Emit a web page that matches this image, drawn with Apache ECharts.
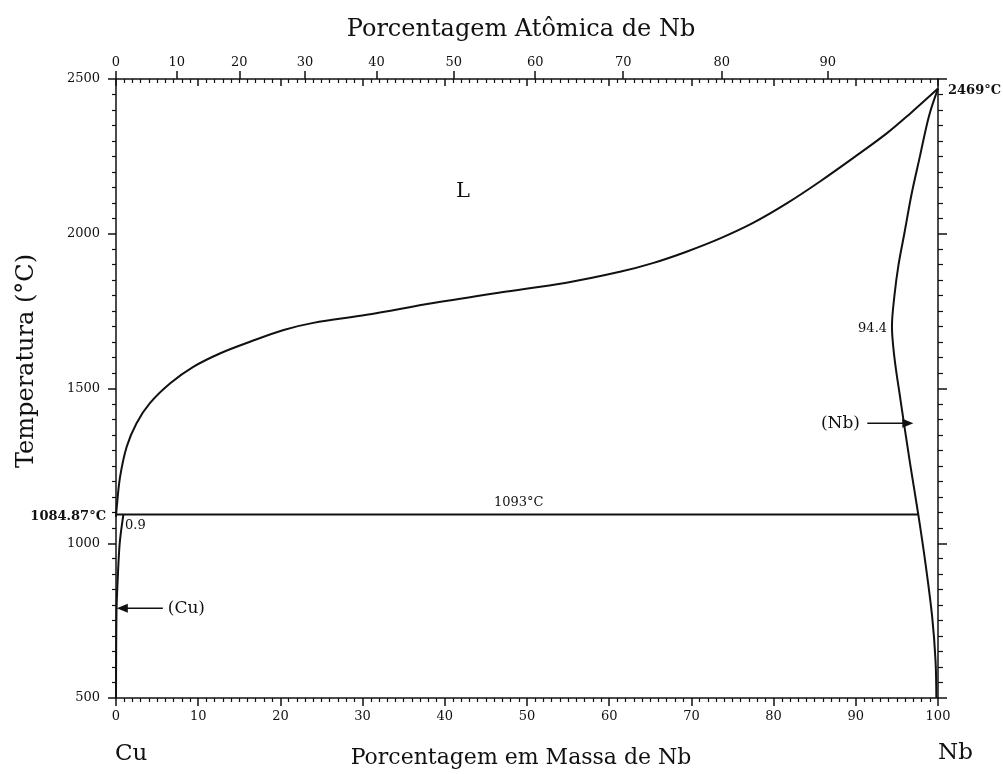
<!DOCTYPE html>
<html>
<head>
<meta charset="utf-8">
<script src="https://cdn.jsdelivr.net/npm/echarts@6/dist/echarts.min.js"></script>
<style>
  html, body { margin: 0; padding: 0; background: #fff; }
  #chart { width: 1003px; height: 774px; }
</style>
</head>
<body>
<div id="chart"></div>
<script>
// Cu–Nb phase diagram (temperature vs. mass % Nb)

// Liquidus: from the Cu melting point to the Nb melting point
const liquidus = [
  [0, 1084.87], [0.1, 1120], [0.5, 1215], [1.3, 1312], [2.5, 1388], [4.1, 1452],
  [6.6, 1517], [9.4, 1570], [12.7, 1614], [16.3, 1651], [20.4, 1689], [24, 1712],
  [30.5, 1738], [38.6, 1776], [46.7, 1810], [54.8, 1842], [61.3, 1877], [65.4, 1906],
  [69.4, 1942], [73.5, 1985], [77.5, 2035], [81.6, 2098], [85.6, 2168], [89.7, 2245],
  [93.8, 2325], [96.6, 2388], [100, 2469]
];

// (Nb) solidus / solvus boundary on the Nb-rich side
const nbBoundary = [
  [100, 2469], [98.9, 2380], [97.8, 2250], [96.8, 2130], [95.9, 2000], [95.2, 1900],
  [94.7, 1800], [94.4, 1700], [94.7, 1600], [95.4, 1470], [96.6, 1258], [97.6, 1093],
  [98.5, 930], [99.3, 760], [99.7, 620], [99.8, 500]
];

// (Cu) solvus on the Cu-rich side
const cuSolvus = [[0.9, 1093], [0.45, 1000], [0.2, 880], [0.07, 790], [0.02, 650], [0, 500]];

// Invariant isotherm
const isotherm = [[0, 1093], [97.6, 1093]];

// Key temperatures / compositions
const tMeltCu = 1084.87;
const tMeltNb = 2469;
const tInvariant = 1093;
const cuMaxSol = 0.9;
const nbMinSol = 94.4;

// Upper scale: atomic % Nb labels and where they fall on the mass % scale
const atomicTicks = [0, 10, 20, 30, 40, 50, 60, 70, 80, 90];
const atomicTickAtMass = [0, 7.4, 15.0, 23.0, 31.7, 41.1, 51.0, 61.7, 73.7, 86.6];

const FONT = 'DejaVu Serif';
const INK = '#111';
const axisLineStyle = { color: INK, width: 1.5 };

const chart = echarts.init(document.getElementById('chart'), null, { renderer: 'canvas' });

function curve(name, data, smooth) {
  return {
    name, type: 'line', data, smooth, symbol: 'none',
    xAxisIndex: 0, yAxisIndex: 0,
    lineStyle: { color: INK, width: 2 }, silent: true, z: 3
  };
}

chart.setOption({
  animation: false,
  backgroundColor: '#fff',
  grid: { left: 116, right: 65, top: 79, bottom: 76, containLabel: false },
  xAxis: [
    { // mass % Nb (bottom)
      type: 'value', position: 'bottom', min: 0, max: 100, interval: 10,
      axisLine: { show: true, onZero: false, lineStyle: axisLineStyle },
      axisTick: { show: true, length: 8, lineStyle: axisLineStyle },
      minorTick: { show: true, splitNumber: 10, length: 4, lineStyle: { color: INK, width: 1.2 } },
      splitLine: { show: false },
      axisLabel: { fontFamily: FONT, fontSize: 13, color: INK, margin: 12, formatter: (v) => String(v) }
    },
    { // mass % ticks mirrored on the top edge
      type: 'value', position: 'top', min: 0, max: 100, interval: 10,
      axisLine: { show: true, onZero: false, lineStyle: axisLineStyle },
      axisTick: { show: true, inside: true, length: 7, lineStyle: axisLineStyle },
      minorTick: { show: true, splitNumber: 10, length: 4, lineStyle: { color: INK, width: 1.2 } },
      splitLine: { show: false },
      axisLabel: { show: false }
    },
    { // atomic % Nb (top)
      type: 'value', position: 'top', min: 0, max: 100,
      axisLine: { show: false, onZero: false },
      axisTick: { show: true, length: 8, customValues: atomicTickAtMass, lineStyle: axisLineStyle },
      splitLine: { show: false },
      axisLabel: {
        fontFamily: FONT, fontSize: 13, color: INK, margin: 10,
        customValues: atomicTickAtMass,
        formatter: function (v) {
          let best = 0;
          for (let i = 1; i < atomicTickAtMass.length; i++) {
            if (Math.abs(atomicTickAtMass[i] - v) < Math.abs(atomicTickAtMass[best] - v)) best = i;
          }
          return String(atomicTicks[best]);
        }
      }
    }
  ],
  yAxis: [
    {
      type: 'value', position: 'left', min: 500, max: 2500, interval: 500,
      axisLine: { show: true, onZero: false, lineStyle: axisLineStyle },
      axisTick: { show: true, length: 8, lineStyle: axisLineStyle },
      minorTick: { show: true, splitNumber: 10, length: 4, lineStyle: { color: INK, width: 1.2 } },
      splitLine: { show: false },
      axisLabel: { fontFamily: FONT, fontSize: 13, color: INK, margin: 16, formatter: (v) => String(v) }
    },
    {
      type: 'value', position: 'right', min: 500, max: 2500, interval: 500,
      axisLine: { show: true, onZero: false, lineStyle: axisLineStyle },
      axisTick: { show: true, length: 9, lineStyle: axisLineStyle },
      minorTick: { show: true, splitNumber: 10, length: 5, lineStyle: { color: INK, width: 1.2 } },
      splitLine: { show: false },
      axisLabel: { show: false }
    }
  ],
  series: [
    curve('Liquidus', liquidus, 0.35),
    curve('(Nb)', nbBoundary, 0.35),
    curve('(Cu)', cuSolvus, 0.3),
    curve('Isoterma', isotherm, false)
  ]
});

// Annotations placed in data coordinates
const px = (p) => chart.convertToPixel({ xAxisIndex: 0, yAxisIndex: 0 }, p);

function label(text, p, opts) {
  return {
    type: 'text', x: p[0], y: p[1], silent: true, z: 10,
    style: Object.assign({
      text, fill: INK, fontFamily: FONT, fontSize: 13,
      align: 'center', verticalAlign: 'middle'
    }, opts || {})
  };
}

function arrow(from, to) {
  const a = px(from), b = px(to);
  const dir = Math.sign(b[0] - a[0]);
  const head = 11, half = 4.5;
  return [
    { type: 'line', silent: true, z: 10,
      shape: { x1: a[0], y1: a[1], x2: b[0] - dir * head * 0.6, y2: b[1] },
      style: { stroke: INK, lineWidth: 1.5 } },
    { type: 'polygon', silent: true, z: 10,
      shape: { points: [[b[0], b[1]], [b[0] - dir * head, b[1] - half], [b[0] - dir * head, b[1] + half]] },
      style: { fill: INK } }
  ];
}

const origin = px([0, tMeltCu]);
const nbTop = px([100, tMeltNb]);
const cuFoot = px([0, 500]);
const nbFoot = px([100, 500]);

const graphics = [
  // Axis titles
  label('Porcentagem Atômica de Nb', [521, 30], { fontSize: 24 }),
  label('Temperatura (°C)', [0, 0], { fontSize: 24 }),
  label('Porcentagem em Massa de Nb', [521, 758], { fontSize: 22 }),
  label('Cu', [cuFoot[0] - 1, 754], { fontSize: 23, align: 'left' }),
  label('Nb', [nbFoot[0], 753], { fontSize: 23, align: 'left' }),

  // Melting points
  label(tMeltCu + '°C', [origin[0] - 10, origin[1]], { align: 'right', fontWeight: 'bold' }),
  label(tMeltNb + '°C', [nbTop[0] + 10, nbTop[1] + 2], { align: 'left', fontWeight: 'bold' }),

  // Phase and point labels
  label('L', px([42.2, 2135]), { fontSize: 21 }),
  label(tInvariant + '°C', px([49.0, 1130])),
  label(String(cuMaxSol), px([cuMaxSol + 0.2, 1056]), { align: 'left' }),
  label(String(nbMinSol), px([nbMinSol - 0.6, 1692]), { align: 'right' }),
  label('(Cu)', px([6.3, 790]), { fontSize: 17, align: 'left' }),
  label('(Nb)', px([90.5, 1388]), { fontSize: 17, align: 'right' })
];

// Rotated y-axis title
graphics[1].x = 27; graphics[1].y = 361; graphics[1].rotation = Math.PI / 2;

graphics.push(...arrow([5.7, 790], [0.1, 790]));
graphics.push(...arrow([91.4, 1388], [97.0, 1388]));

chart.setOption({ graphic: graphics });
</script>
</body>
</html>
